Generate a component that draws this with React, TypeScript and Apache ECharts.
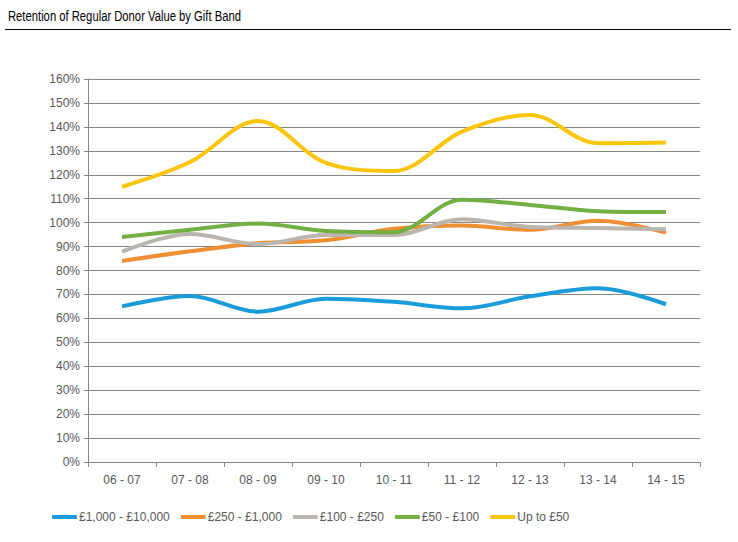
import React, { useEffect, useRef } from "react";
import * as echarts from "echarts";

const categories = ["06 - 07", "07 - 08", "08 - 09", "09 - 10", "10 - 11", "11 - 12", "12 - 13", "13 - 14", "14 - 15"];
const seriesNames = ["£1,000 - £10,000", "£250 - £1,000", "£100 - £250", "£50 - £100", "Up to £50"];
const band1000to10000 = [65, 69.3, 62.8, 68.2, 66.9, 64.2, 69.2, 72.6, 65.9];
const band250to1000 = [84, 88, 91.4, 92.6, 97.4, 98.8, 97, 100.8, 95.8];
const band100to250 = [87.9, 95.2, 91, 94.8, 94.8, 101.4, 98.2, 97.8, 97.2];
const band50to100 = [94, 97, 99.6, 96.5, 96, 109.6, 107.4, 104.8, 104.4];
const bandUpTo50 = [115, 125.3, 142.5, 125, 121.6, 138, 145, 133.2, 133.5];
const yTicks = { min: 0, max: 160, interval: 10 };
const colors = ["#1B9CDA", "#EF8F32", "#BAB5AF", "#72B043", "#FAC50A"];

const FONT = "'Liberation Sans', Arial, sans-serif";

export default function App() {
  const ref = useRef<HTMLDivElement>(null);
  useEffect(() => {
    if (!ref.current) return;
    const chart = echarts.init(ref.current, undefined, { renderer: "svg" });
    const data = [band1000to10000, band250to1000, band100to250, band50to100, bandUpTo50];
    chart.setOption({
      animation: false,
      textStyle: { fontFamily: FONT },
      graphic: [
        {
          type: "text",
          x: 8,
          y: 8,
          scaleX: 0.75,
          style: { text: "Retention of Regular Donor Value by Gift Band", font: "15px 'Liberation Sans', Arial, sans-serif", fill: "#000" },
        },
        {
          type: "line",
          shape: { x1: 5, y1: 29.5, x2: 731, y2: 29.5 },
          style: { stroke: "#000", lineWidth: 1 },
        },
      ],
      grid: { left: 88, right: 38, top: 79, bottom: 80, containLabel: false },
      legend: {
        bottom: 14,
        left: 47,
        itemWidth: 25,
        itemHeight: 4,
        itemGap: 11,
        icon: "roundRect",
        textStyle: { fontFamily: FONT, fontSize: 12, color: "#595959", padding: [0, 0, 0, -3] },
        data: seriesNames,
      },
      xAxis: {
        type: "category",
        data: categories,
        boundaryGap: true,
        axisLine: { lineStyle: { color: "#868686" } },
        axisTick: { show: true, length: 5, lineStyle: { color: "#868686" } },
        axisLabel: { color: "#595959", fontSize: 12, fontFamily: FONT, margin: 12 },
      },
      yAxis: {
        type: "value",
        min: yTicks.min,
        max: yTicks.max,
        interval: yTicks.interval,
        axisLine: { show: true, lineStyle: { color: "#868686" } },
        axisTick: { show: true, length: 4, lineStyle: { color: "#868686" } },
        axisLabel: { color: "#595959", fontSize: 12, fontFamily: FONT, formatter: "{value}%", margin: 8 },
        splitLine: { lineStyle: { color: "#868686", width: 1 } },
      },
      series: seriesNames.map((name, i) => ({
        name,
        type: "line",
        data: data[i],
        smooth: 0.35,
        symbol: "none",
        lineStyle: { width: 4, color: colors[i] },
        itemStyle: { color: colors[i] },
        z: 2 + i,
      })),
    });
    return () => chart.dispose();
  }, []);
  return <div ref={ref} style={{ width: 738, height: 542, position: "absolute", left: 0, top: 0, background: "#fff" }} />;
}
